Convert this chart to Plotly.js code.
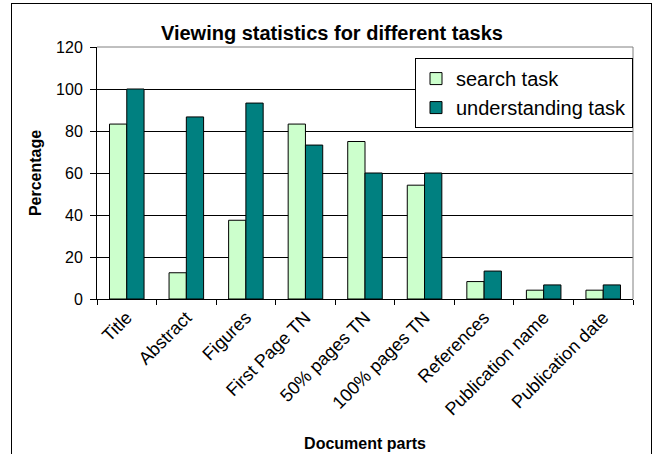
<!DOCTYPE html>
<html>
<head>
<meta charset="utf-8">
<script src="https://cdn.plot.ly/plotly-3.0.1.min.js"></script>
<style>
  html, body { margin: 0; padding: 0; background: #fff; }
  #wrap { position: relative; width: 656px; height: 454px; overflow: hidden; }
  #chart { position: absolute; left: 0; top: 0; width: 656px; height: 454px; }
  #frame { position: absolute; left: 11px; top: 3px; width: 641px; height: 470px; border: 1px solid #000; pointer-events: none; box-sizing: border-box; }
</style>
</head>
<body>
<div id="wrap">
  <div id="chart"></div>
  <div id="frame"></div>
</div>
<script>
const categories = ["Title", "Abstract", "Figures", "First Page TN", "50% pages TN",
                    "100% pages TN", "References", "Publication name", "Publication date"];
const searchTask = [83.3, 12.5, 37.5, 83.3, 75.0, 54.2, 8.3, 4.2, 4.2];
const understandingTask = [100, 86.7, 93.3, 73.3, 60.0, 60.0, 13.3, 6.7, 6.7];
const yTicks = [0, 20, 40, 60, 80, 100, 120];

const FONT = "Arial, 'Liberation Sans', sans-serif";

const traces = [
  {
    type: "bar", name: "search task", x: categories, y: searchTask,
    marker: { color: "#CCFFCC", line: { color: "#000", width: 1 } }
  },
  {
    type: "bar", name: "understanding task", x: categories, y: understandingTask,
    marker: { color: "#008080", line: { color: "#000", width: 1 } }
  }
];

const layout = {
  width: 656, height: 454,
  margin: { l: 97, r: 23, t: 47, b: 155, pad: 0 },
  paper_bgcolor: "rgba(0,0,0,0)", plot_bgcolor: "#fff",
  font: { family: FONT, color: "#000", size: 16 },
  barmode: "group", bargap: 0.42, bargroupgap: 0,
  title: {
    text: "<b>Viewing statistics for different tasks</b>",
    font: { family: FONT, size: 20, color: "#000" },
    xref: "container", x: 0.506, xanchor: "center",
    yref: "container", y: 1 - 33/454, yanchor: "middle"
  },
  xaxis: {
    type: "category", automargin: false,
    showline: true, linecolor: "#000", linewidth: 1,
    ticks: "outside", tickson: "boundaries", ticklen: 5, tickcolor: "#000",
    tickangle: -45, tickfont: { size: 18, family: FONT, color: "#000" },
    showgrid: false,
    title: { text: "<b>Document parts</b>", font: { size: 16, family: FONT }, standoff: 19 }
  },
  yaxis: {
    range: [0, 120], tickvals: yTicks, ticktext: yTicks.map(String), automargin: false,
    showline: true, linecolor: "#000", linewidth: 1,
    ticks: "outside", ticklen: 6, tickcolor: "#000", ticklabelstandoff: 4,
    showgrid: true, gridcolor: "#000", gridwidth: 1, zeroline: false,
    tickfont: { size: 16, family: FONT, color: "#000" },
    title: { text: "<b>Percentage</b>", font: { size: 16, family: FONT }, standoff: 10 }
  },
  legend: {
    x: 1, xanchor: "right", y: 0.956, yanchor: "top",
    bgcolor: "#fff", bordercolor: "#000", borderwidth: 1,
    font: { size: 20, family: FONT, color: "#000" }
  },
  shapes: [
    { type: "line", xref: "paper", yref: "paper", x0: 0, x1: 1, y0: 1, y1: 1, layer: "above",
      line: { color: "#808080", width: 1 } },
    { type: "line", xref: "paper", yref: "paper", x0: 1, x1: 1, y0: 0, y1: 1, layer: "above",
      line: { color: "#808080", width: 1 } }
  ]
};

Plotly.newPlot("chart", traces, layout, { staticPlot: true, displayModeBar: false });
</script>
</body>
</html>
